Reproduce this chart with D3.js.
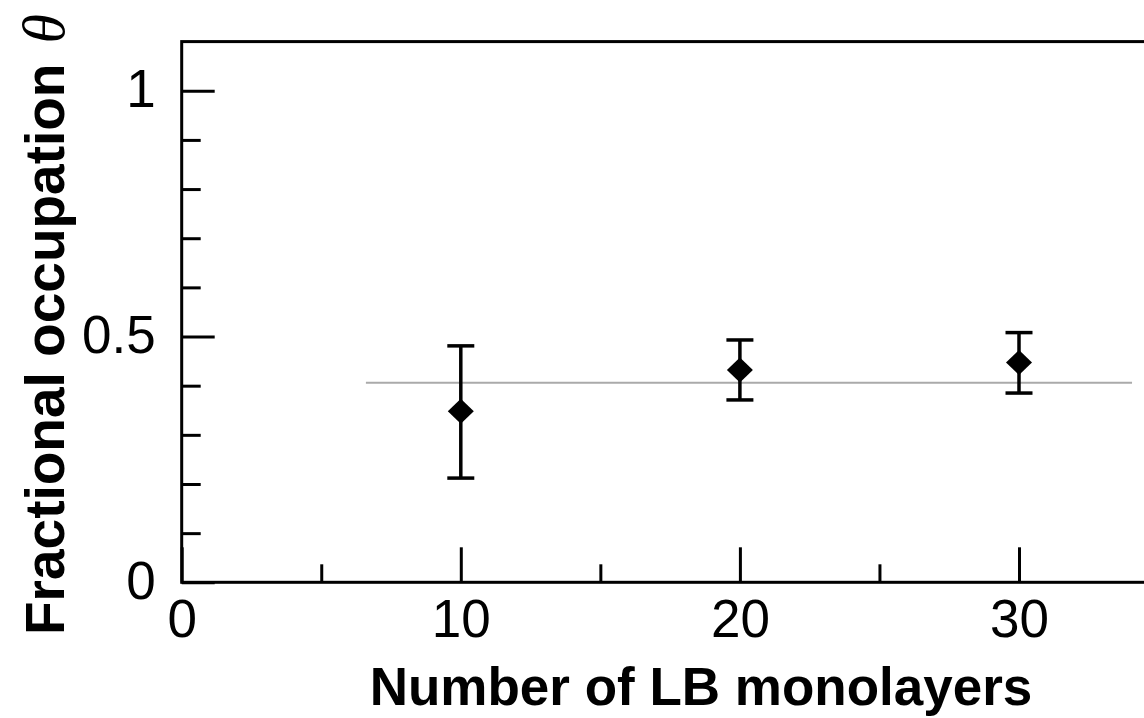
<!DOCTYPE html>
<html>
<head>
<meta charset="utf-8">
<script src="https://cdn.jsdelivr.net/npm/d3@7"></script>
<style>
  html, body { margin: 0; padding: 0; background: #fff; }
  svg { display: block; }
</style>
</head>
<body>
<svg id="chart" width="1144" height="718"></svg>
<script>
// Fractional occupation vs. number of LB monolayers
const layers = [10, 20, 30];
const theta = [0.348, 0.432, 0.447];
const thetaLow = [0.212, 0.371, 0.385];
const thetaHigh = [0.481, 0.493, 0.508];

// mean level drawn as a horizontal reference line
const meanX = [6.6, 34.05];
const meanY = [0.406, 0.406];

const xMajorTicks = [0, 10, 20, 30];
const xMinorTicks = [5, 15, 25];
const yMajorTicks = [0, 0.5, 1];
const yMinorTicks = [0.1, 0.2, 0.3, 0.4, 0.6, 0.7, 0.8, 0.9];
const yTickLabels = ["0", "0.5", "1"];

const svg = d3.select("#chart");
const x0 = 181.7, xPer = 27.91;
const x = d3.scaleLinear().domain([0, 35]).range([x0, x0 + 35 * xPer]);
const y = d3.scaleLinear().domain([0, 1.1]).range([582.3, 41.6]);

const sans = "'Liberation Sans', Arial, Helvetica, sans-serif";

// frame
svg.append("rect")
  .attr("x", x(0)).attr("y", y(1.1))
  .attr("width", x(35) - x(0)).attr("height", y(0) - y(1.1))
  .attr("fill", "none").attr("stroke", "#000").attr("stroke-width", 3);

// y axis: major ticks with labels, minor ticks inward
const yAxis = svg.append("g").attr("transform", `translate(${x(0)},0)`)
  .call(d3.axisLeft(y).tickValues(yMajorTicks).tickSizeInner(-33).tickSizeOuter(0)
    .tickPadding(26).tickFormat((d, i) => yTickLabels[i]));
const yMinor = svg.append("g").attr("transform", `translate(${x(0)},0)`)
  .call(d3.axisLeft(y).tickValues(yMinorTicks).tickSizeInner(-19).tickSizeOuter(0).tickFormat(""));

// x axis: major ticks with labels, minor ticks inward
const xAxis = svg.append("g").attr("transform", `translate(0,${y(0)})`)
  .call(d3.axisBottom(x).tickValues(xMajorTicks).tickSizeInner(-35).tickSizeOuter(0)
    .tickPadding(17).tickFormat(d3.format("d")));
const xMinor = svg.append("g").attr("transform", `translate(0,${y(0)})`)
  .call(d3.axisBottom(x).tickValues(xMinorTicks).tickSizeInner(-18).tickSizeOuter(0).tickFormat(""));

[yAxis, yMinor, xAxis, xMinor].forEach(g => {
  g.select(".domain").remove();
  g.selectAll(".tick line").attr("stroke", "#000").attr("stroke-width", 3);
  g.selectAll(".tick text").attr("fill", "#000")
    .style("font-family", sans).style("font-size", "53px");
});
yAxis.selectAll(".tick text").attr("dy", "0.3em");

// mean reference line
svg.append("line")
  .attr("x1", x(meanX[0])).attr("x2", x(meanX[1]))
  .attr("y1", y(meanY[0])).attr("y2", y(meanY[1]))
  .attr("stroke", "#aaaaaa").attr("stroke-width", 2);

// error bars
const data = layers.map((d, i) => ({ n: d, v: theta[i], lo: thetaLow[i], hi: thetaHigh[i] }));
const capHalf = 13.5;
const bars = svg.append("g").attr("stroke", "#000").attr("stroke-width", 3.5);
data.forEach(d => {
  bars.append("line").attr("x1", x(d.n)).attr("x2", x(d.n)).attr("y1", y(d.lo)).attr("y2", y(d.hi));
  bars.append("line").attr("x1", x(d.n) - capHalf).attr("x2", x(d.n) + capHalf).attr("y1", y(d.lo)).attr("y2", y(d.lo));
  bars.append("line").attr("x1", x(d.n) - capHalf).attr("x2", x(d.n) + capHalf).attr("y1", y(d.hi)).attr("y2", y(d.hi));
});

// diamond markers
const diamond = "M0,-12.5L13,0L0,12.5L-13,0Z";
svg.append("g").selectAll("path").data(data).join("path")
  .attr("d", diamond)
  .attr("transform", d => `translate(${x(d.n)},${y(d.v)})`)
  .attr("fill", "#000");

// axis titles
svg.append("text")
  .attr("x", 701).attr("y", 705)
  .attr("text-anchor", "middle")
  .style("font-family", sans).style("font-weight", "bold").style("font-size", "53px")
  .text("Number of LB monolayers");

const yt = svg.append("text")
  .attr("transform", "translate(64,635) rotate(-90)")
  .attr("text-anchor", "start")
  .style("font-family", sans).style("font-weight", "bold").style("font-size", "55px");
yt.append("tspan").text("Fractional occupation");
yt.append("tspan").attr("dx", 20)
  .style("font-family", "'Liberation Serif', 'Times New Roman', serif")
  .style("font-style", "italic").style("font-weight", "normal").style("font-size", "60px")
  .text("θ");
</script>
</body>
</html>
